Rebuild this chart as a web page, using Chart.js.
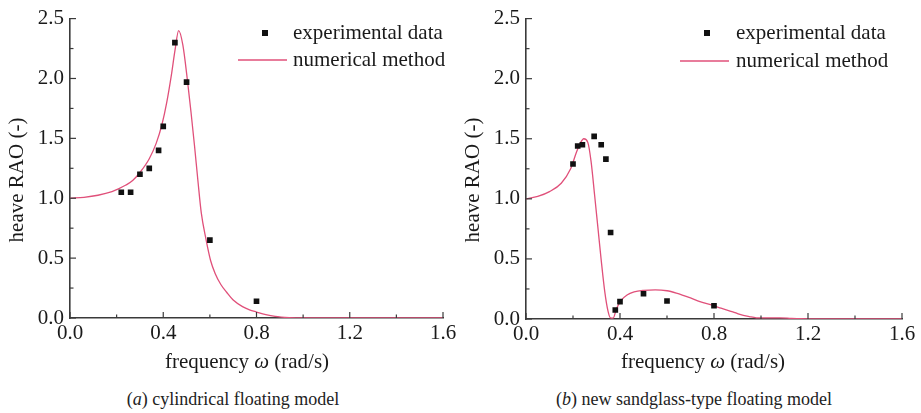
<!DOCTYPE html>
<html>
<head>
<meta charset="utf-8">
<script src="https://cdn.jsdelivr.net/npm/chart.js@4/dist/chart.umd.min.js"></script>
<style>
  html, body { margin: 0; padding: 0; background: #fff; }
  body { width: 921px; height: 413px; position: relative; overflow: hidden; }
  canvas { position: absolute; top: 0; }
  .cap { position: absolute; top: 389px; font-family: "Liberation Serif", "Times New Roman", serif; font-size: 18px; color: #222; white-space: nowrap; transform: translateX(-50%); }
</style>
</head>
<body>
<canvas id="cA" width="460" height="380" style="left:0px"></canvas>
<canvas id="cB" width="461" height="380" style="left:460px"></canvas>
<div class="cap" style="left:233px">(<i>a</i>) cylindrical floating model</div>
<div class="cap" style="left:694px">(<i>b</i>) new sandglass-type floating model</div>
<script>
// ---------- data ----------
const xTicks = [0, 0.4, 0.8, 1.2, 1.6];
const xMinorTicks = [0.2, 0.6, 1.0, 1.4];
const yTicks = [0, 0.5, 1.0, 1.5, 2.0, 2.5];
const yMinorTicks = [0.25, 0.75, 1.25, 1.75, 2.25];

const legendLabels = ['experimental data', 'numerical method'];

// (a) cylindrical floating model
const expA_w = [0.22, 0.26, 0.30, 0.34, 0.38, 0.40, 0.45, 0.50, 0.60, 0.80];
const expA_v = [1.05, 1.05, 1.20, 1.25, 1.40, 1.60, 2.30, 1.97, 0.65, 0.14];
const numA_w = [0, 0.06, 0.12, 0.18, 0.21, 0.24, 0.27, 0.30, 0.34, 0.37, 0.395, 0.415, 0.435, 0.45, 0.466, 0.484, 0.504, 0.519, 0.534, 0.549, 0.563, 0.583, 0.603, 0.623, 0.647, 0.672, 0.70, 0.74, 0.77, 0.80, 0.84, 0.88, 0.94, 1.0, 1.2, 1.4, 1.6];
const numA_v = [1.0, 1.008, 1.025, 1.055, 1.08, 1.11, 1.15, 1.215, 1.33, 1.46, 1.62, 1.80, 2.03, 2.23, 2.40, 2.28, 1.98, 1.72, 1.44, 1.14, 0.88, 0.66, 0.48, 0.37, 0.28, 0.215, 0.15, 0.095, 0.068, 0.05, 0.028, 0.013, 0.003, 0.0, 0.0, 0.0, 0.0];

// (b) new sandglass-type floating model
const expB_w = [0.20, 0.22, 0.24, 0.29, 0.32, 0.34, 0.36, 0.38, 0.40, 0.50, 0.60, 0.80];
const expB_v = [1.29, 1.44, 1.45, 1.52, 1.45, 1.33, 0.72, 0.075, 0.145, 0.21, 0.15, 0.11];
const numB_w = [0, 0.05, 0.10, 0.15, 0.19, 0.215, 0.23, 0.246, 0.263, 0.277, 0.292, 0.306, 0.32, 0.335, 0.349, 0.359, 0.371, 0.385, 0.405, 0.43, 0.46, 0.50, 0.55, 0.60, 0.64, 0.70, 0.74, 0.80, 0.83, 0.88, 0.91, 0.95, 0.98, 1.03, 1.08, 1.13, 1.17, 1.25, 1.4, 1.6];
const numB_v = [1.0, 1.02, 1.06, 1.13, 1.25, 1.39, 1.46, 1.50, 1.47, 1.31, 1.03, 0.76, 0.49, 0.23, 0.065, 0.01, 0.008, 0.085, 0.155, 0.20, 0.225, 0.238, 0.243, 0.235, 0.215, 0.175, 0.145, 0.11, 0.09, 0.06, 0.038, 0.02, 0.01, 0.009, 0.01, 0.005, 0.002, 0.0, 0.0, 0.0];

// ---------- styling ----------
const SERIF = "'Liberation Serif', 'Times New Roman', serif";
const TEXT = '#1a1a1a';
const AXIS = '#3a3a3a';
const CURVE = '#e0507a';

function pts(w, v) { return w.map((x, i) => ({ x: x, y: v[i] })); }

function decoPlugin(cfg) {
  return {
    id: 'deco',
    afterDraw(chart) {
      const ctx = chart.ctx;
      const xs = chart.scales.x, ys = chart.scales.y;
      const a = chart.chartArea;
      ctx.save();
      // inward ticks
      ctx.strokeStyle = AXIS;
      ctx.lineWidth = 1.2;
      const tick = (x1, y1, x2, y2) => { ctx.beginPath(); ctx.moveTo(x1, y1); ctx.lineTo(x2, y2); ctx.stroke(); };
      xTicks.forEach(v => { const p = xs.getPixelForValue(v); tick(p, a.bottom, p, a.bottom - 6); });
      xMinorTicks.forEach(v => { const p = xs.getPixelForValue(v); tick(p, a.bottom, p, a.bottom - 3.5); });
      yTicks.forEach(v => { const p = ys.getPixelForValue(v); tick(a.left, p, a.left + 6, p); });
      yMinorTicks.forEach(v => { const p = ys.getPixelForValue(v); tick(a.left, p, a.left + 3.5, p); });

      // y title
      ctx.fillStyle = TEXT;
      ctx.font = '21px ' + SERIF;
      ctx.textAlign = 'center';
      ctx.textBaseline = 'middle';
      ctx.save();
      ctx.translate(cfg.yTitleX, cfg.yTitleY);
      ctx.rotate(-Math.PI / 2);
      ctx.fillText('heave RAO (-)', 0, 0);
      ctx.restore();

      // x title with italic omega
      const parts = [['frequency ', '21px ' + SERIF], ['\u03C9', 'italic 21px ' + SERIF], [' (rad/s)', '21px ' + SERIF]];
      let total = 0;
      parts.forEach(p => { ctx.font = p[1]; total += ctx.measureText(p[0]).width; });
      let x = cfg.xTitleX - total / 2;
      ctx.textAlign = 'left';
      parts.forEach(p => { ctx.font = p[1]; ctx.fillText(p[0], x, cfg.xTitleY); x += ctx.measureText(p[0]).width; });

      // legend
      ctx.font = '21px ' + SERIF;
      ctx.fillStyle = '#111';
      ctx.fillRect(cfg.legSq - 3, cfg.legY1 - 3, 6, 6);
      ctx.strokeStyle = CURVE;
      ctx.lineWidth = 1.3;
      tick(cfg.legL1, cfg.legY2, cfg.legL2, cfg.legY2);
      ctx.fillStyle = TEXT;
      ctx.fillText(legendLabels[0], cfg.legText, cfg.legY1);
      ctx.fillText(legendLabels[1], cfg.legText, cfg.legY2);
      ctx.restore();
    }
  };
}

function makeChart(id, expW, expV, numW, numV, cfg) {
  return new Chart(document.getElementById(id), {
    type: 'scatter',
    data: {
      datasets: [
        {
          label: legendLabels[1],
          data: pts(numW, numV),
          showLine: true,
          borderColor: CURVE,
          borderWidth: 1.3,
          pointRadius: 0,
          cubicInterpolationMode: 'monotone',
          order: 2
        },
        {
          label: legendLabels[0],
          data: pts(expW, expV),
          pointStyle: 'rect',
          pointRadius: 4,
          backgroundColor: '#111',
          borderColor: '#111',
          borderWidth: 0,
          order: 1
        }
      ]
    },
    options: {
      responsive: false,
      animation: false,
      devicePixelRatio: 1,
      layout: { padding: { left: 0, top: 14, right: cfg.padRight, bottom: 0 } },
      plugins: { legend: { display: false }, tooltip: { enabled: false } },
      scales: {
        x: {
          type: 'linear',
          min: 0, max: 1.6,
          afterBuildTicks(s) { s.ticks = xTicks.map(v => ({ value: v })); },
          afterFit(s) { s.height = cfg.xHeight; },
          grid: { display: false, drawTicks: false },
          border: { display: true, color: AXIS, width: 1.6 },
          ticks: {
            padding: 3, maxRotation: 0, autoSkip: false,
            color: TEXT, font: { family: SERIF, size: 21 },
            callback: v => Number(v).toFixed(1)
          }
        },
        y: {
          type: 'linear',
          min: 0, max: 2.5,
          afterBuildTicks(s) { s.ticks = yTicks.map(v => ({ value: v })); },
          afterFit(s) { s.width = cfg.yWidth; },
          grid: { display: false, drawTicks: false },
          border: { display: true, color: AXIS, width: 1.6 },
          ticks: {
            padding: 6, autoSkip: false,
            color: TEXT, font: { family: SERIF, size: 21 },
            callback: v => Number(v).toFixed(1)
          }
        }
      }
    },
    plugins: [decoPlugin(cfg)]
  });
}

makeChart('cA', expA_w, expA_v, numA_w, numA_v, {
  padRight: 17, xHeight: 62, yWidth: 70,
  yTitleX: 17, yTitleY: 180, xTitleX: 247, xTitleY: 362,
  legSq: 265, legY1: 33, legY2: 60, legL1: 238, legL2: 287, legText: 293
});
makeChart('cB', expB_w, expB_v, numB_w, numB_v, {
  padRight: 19, xHeight: 61, yWidth: 66,
  yTitleX: 13, yTitleY: 180, xTitleX: 243, xTitleY: 362,
  legSq: 247, legY1: 33, legY2: 61, legL1: 220, legL2: 269, legText: 276
});
</script>
</body>
</html>
